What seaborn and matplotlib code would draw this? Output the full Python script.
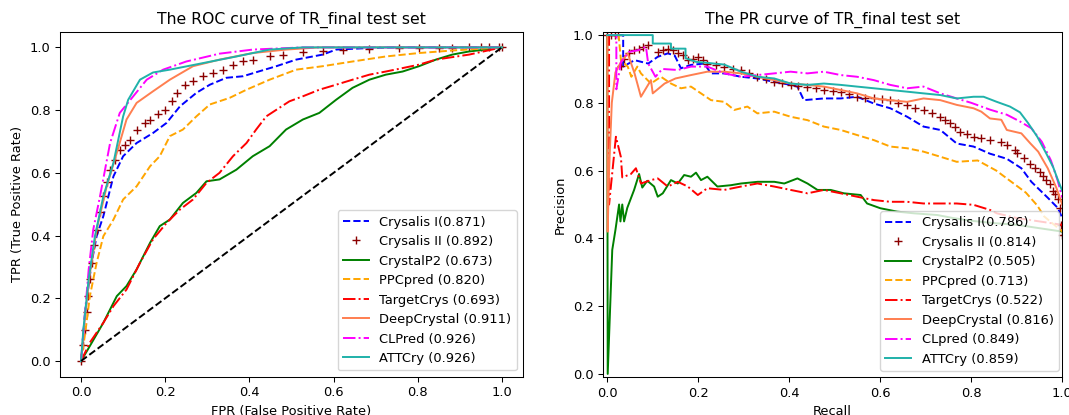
import matplotlib
matplotlib.use("Agg")
import matplotlib.pyplot as plt
import seaborn as sns

# ---------------- ROC data ----------------
roc_cry1_fpr = [0.0, 0.0095, 0.025, 0.037, 0.053, 0.077, 0.10, 0.132, 0.171, 0.203, 0.235, 0.274, 0.306, 0.345, 0.385, 0.424, 0.464, 0.511, 0.574, 0.606, 0.685, 0.75, 1.0]
roc_cry1_tpr = [0.0, 0.154, 0.313, 0.398, 0.462, 0.589, 0.653, 0.695, 0.727, 0.759, 0.812, 0.855, 0.881, 0.903, 0.908, 0.924, 0.94, 0.961, 0.977, 0.993, 0.998, 1.0, 1.0]

roc_cry2_fpr = [0.0, 0.0055, 0.0095, 0.013, 0.017, 0.021, 0.025, 0.031, 0.037, 0.045, 0.053, 0.061, 0.069, 0.081, 0.092, 0.104, 0.116, 0.132, 0.152, 0.164, 0.183, 0.199, 0.215, 0.227, 0.246, 0.266, 0.29, 0.314, 0.337, 0.361, 0.385, 0.408, 0.448, 0.479, 0.527, 0.574, 0.622, 0.685, 0.756, 0.803, 0.85, 0.882, 0.922, 0.95, 0.97, 0.993, 1.0]
roc_cry2_tpr = [0.0, 0.05, 0.10, 0.155, 0.207, 0.26, 0.313, 0.37, 0.419, 0.475, 0.525, 0.57, 0.61, 0.642, 0.674, 0.69, 0.706, 0.738, 0.759, 0.77, 0.786, 0.80, 0.828, 0.855, 0.881, 0.892, 0.908, 0.918, 0.929, 0.945, 0.955, 0.961, 0.971, 0.977, 0.984, 0.99, 0.992, 0.996, 0.997, 0.998, 0.998, 0.999, 1.0, 1.0, 1.0, 1.0, 1.0]

roc_p2_fpr = [0.0, 0.021, 0.053, 0.085, 0.108, 0.132, 0.164, 0.187, 0.211, 0.242, 0.274, 0.298, 0.329, 0.369, 0.408, 0.448, 0.487, 0.527, 0.566, 0.606, 0.645, 0.685, 0.724, 0.764, 0.803, 0.843, 0.882, 0.922, 0.961, 1.0]
roc_p2_tpr = [0.0, 0.048, 0.122, 0.207, 0.239, 0.292, 0.377, 0.43, 0.451, 0.504, 0.536, 0.573, 0.579, 0.61, 0.653, 0.685, 0.738, 0.77, 0.791, 0.833, 0.871, 0.897, 0.913, 0.923, 0.94, 0.961, 0.977, 0.987, 0.993, 1.0]

roc_ppc_fpr = [0.0, 0.01, 0.021, 0.037, 0.053, 0.077, 0.10, 0.132, 0.164, 0.187, 0.211, 0.242, 0.274, 0.306, 0.353, 0.393, 0.448, 0.511, 0.574, 0.645, 0.724, 0.803, 0.882, 1.0]
roc_ppc_tpr = [0.0, 0.09, 0.207, 0.313, 0.398, 0.451, 0.515, 0.557, 0.621, 0.653, 0.717, 0.738, 0.78, 0.818, 0.839, 0.865, 0.897, 0.929, 0.94, 0.955, 0.971, 0.982, 0.99, 1.0]

roc_tc_fpr = [0.0, 0.021, 0.053, 0.077, 0.108, 0.14, 0.171, 0.203, 0.235, 0.266, 0.298, 0.329, 0.361, 0.393, 0.416, 0.44, 0.464, 0.495, 0.527, 0.566, 0.606, 0.645, 0.685, 0.724, 0.764, 0.803, 0.843, 0.922, 1.0]
roc_tc_tpr = [0.0, 0.059, 0.122, 0.175, 0.228, 0.313, 0.388, 0.44, 0.483, 0.515, 0.568, 0.60, 0.653, 0.695, 0.738, 0.78, 0.801, 0.828, 0.844, 0.865, 0.881, 0.897, 0.913, 0.923, 0.934, 0.945, 0.961, 0.977, 1.0]

roc_dc_fpr = [0.0, 0.008, 0.02, 0.037, 0.061, 0.085, 0.108, 0.132, 0.171, 0.211, 0.266, 0.329, 0.408, 0.487, 0.566, 1.0]
roc_dc_tpr = [0.0, 0.12, 0.27, 0.419, 0.557, 0.664, 0.77, 0.823, 0.86, 0.897, 0.94, 0.961, 0.982, 0.993, 1.0, 1.0]

roc_cl_fpr = [0.0, 0.0095, 0.018, 0.029, 0.045, 0.069, 0.092, 0.124, 0.156, 0.195, 0.25, 0.329, 0.408, 0.527, 1.0]
roc_cl_tpr = [0.0, 0.154, 0.29, 0.419, 0.525, 0.695, 0.791, 0.844, 0.897, 0.929, 0.955, 0.98, 0.993, 1.0, 1.0]

roc_att_fpr = [0.0, 0.0055, 0.018, 0.033, 0.053, 0.077, 0.10, 0.112, 0.14, 0.171, 0.211, 0.29, 0.369, 0.448, 0.527, 1.0]
roc_att_tpr = [0.0, 0.10, 0.26, 0.398, 0.525, 0.632, 0.78, 0.833, 0.897, 0.92, 0.929, 0.95, 0.971, 0.993, 1.0, 1.0]

diag = [0.0, 1.0]

# ---------------- PR data ----------------
pr_cry1_rec = [0.0, 0.035, 0.035, 0.06, 0.09, 0.111, 0.133, 0.148, 0.162, 0.184, 0.213, 0.228, 0.257, 0.294, 0.33, 0.367, 0.403, 0.418, 0.432, 0.476, 0.513, 0.549, 0.586, 0.622, 0.659, 0.695, 0.732, 0.768, 0.805, 0.841, 0.878, 0.91, 0.932, 0.968, 0.99, 1.0]
pr_cry1_pre = [1.0, 1.0, 0.907, 0.926, 0.916, 0.936, 0.946, 0.94, 0.902, 0.912, 0.916, 0.887, 0.887, 0.877, 0.872, 0.862, 0.853, 0.848, 0.808, 0.813, 0.813, 0.818, 0.798, 0.784, 0.759, 0.73, 0.72, 0.68, 0.671, 0.65, 0.635, 0.607, 0.567, 0.52, 0.49, 0.46]

pr_cry2_rec = [0.0, 0.008, 0.016, 0.024, 0.03, 0.037, 0.047, 0.058, 0.069, 0.079, 0.09, 0.111, 0.122, 0.133, 0.144, 0.155, 0.166, 0.177, 0.188, 0.199, 0.21, 0.22, 0.238, 0.257, 0.276, 0.294, 0.312, 0.33, 0.348, 0.367, 0.385, 0.403, 0.42, 0.44, 0.458, 0.476, 0.495, 0.513, 0.531, 0.549, 0.567, 0.586, 0.604, 0.622, 0.64, 0.659, 0.677, 0.695, 0.713, 0.732, 0.743, 0.754, 0.765, 0.775, 0.79, 0.805, 0.822, 0.841, 0.866, 0.878, 0.895, 0.9, 0.915, 0.929, 0.94, 0.951, 0.958, 0.965, 0.972, 0.98, 0.985, 0.99, 0.994, 0.998, 1.0]
pr_cry2_pre = [1.0, 1.0, 1.0, 1.0, 0.91, 0.93, 0.947, 0.955, 0.96, 0.965, 0.97, 0.95, 0.955, 0.96, 0.955, 0.946, 0.94, 0.926, 0.93, 0.936, 0.925, 0.916, 0.912, 0.907, 0.9, 0.897, 0.888, 0.877, 0.87, 0.862, 0.858, 0.853, 0.85, 0.848, 0.843, 0.838, 0.836, 0.833, 0.826, 0.818, 0.815, 0.813, 0.81, 0.808, 0.8, 0.794, 0.786, 0.779, 0.77, 0.759, 0.75, 0.74, 0.73, 0.715, 0.708, 0.70, 0.697, 0.69, 0.685, 0.675, 0.66, 0.651, 0.637, 0.621, 0.607, 0.597, 0.585, 0.572, 0.56, 0.54, 0.53, 0.515, 0.49, 0.44, 0.41]

pr_p2_rec = [0.0, 0.001, 0.011, 0.018, 0.026, 0.029, 0.033, 0.037, 0.044, 0.059, 0.07, 0.077, 0.088, 0.103, 0.111, 0.122, 0.14, 0.155, 0.169, 0.184, 0.195, 0.206, 0.22, 0.242, 0.272, 0.294, 0.331, 0.367, 0.389, 0.418, 0.44, 0.462, 0.491, 0.52, 0.557, 0.571, 0.6, 0.637, 0.674, 0.725, 0.76, 0.8, 0.85, 0.9, 0.95, 1.0]
pr_p2_pre = [1.0, 0.0, 0.366, 0.425, 0.50, 0.45, 0.50, 0.45, 0.49, 0.543, 0.59, 0.55, 0.57, 0.553, 0.523, 0.533, 0.572, 0.562, 0.587, 0.582, 0.594, 0.572, 0.582, 0.553, 0.557, 0.562, 0.567, 0.567, 0.562, 0.577, 0.562, 0.543, 0.543, 0.533, 0.528, 0.503, 0.489, 0.479, 0.474, 0.469, 0.46, 0.452, 0.445, 0.44, 0.43, 0.42]

pr_ppc_rec = [0.0, 0.025, 0.03, 0.045, 0.053, 0.066, 0.074, 0.096, 0.118, 0.14, 0.162, 0.184, 0.206, 0.228, 0.257, 0.279, 0.308, 0.33, 0.367, 0.403, 0.44, 0.476, 0.513, 0.549, 0.586, 0.622, 0.659, 0.695, 0.732, 0.768, 0.814, 0.855, 0.89, 0.92, 0.945, 0.96, 1.0]
pr_ppc_pre = [1.0, 1.0, 0.926, 0.907, 0.877, 0.907, 0.887, 0.857, 0.877, 0.857, 0.843, 0.848, 0.828, 0.808, 0.803, 0.779, 0.789, 0.769, 0.774, 0.759, 0.749, 0.73, 0.72, 0.705, 0.69, 0.671, 0.666, 0.656, 0.641, 0.626, 0.63, 0.60, 0.565, 0.535, 0.497, 0.465, 0.42]

pr_tc_rec = [0.0, 0.004, 0.004, 0.019, 0.03, 0.033, 0.052, 0.063, 0.074, 0.096, 0.111, 0.133, 0.155, 0.177, 0.199, 0.22, 0.257, 0.294, 0.33, 0.367, 0.403, 0.44, 0.476, 0.513, 0.549, 0.586, 0.622, 0.659, 0.695, 0.732, 0.768, 0.805, 0.841, 0.856, 0.9, 0.95, 1.0]
pr_tc_pre = [1.0, 1.0, 0.50, 0.70, 0.64, 0.58, 0.59, 0.607, 0.562, 0.572, 0.577, 0.553, 0.567, 0.553, 0.528, 0.548, 0.543, 0.553, 0.562, 0.553, 0.543, 0.533, 0.543, 0.533, 0.523, 0.513, 0.508, 0.508, 0.503, 0.503, 0.503, 0.499, 0.484, 0.474, 0.46, 0.45, 0.44]

pr_dc_rec = [0.0, 0.001, 0.004, 0.01, 0.018, 0.03, 0.045, 0.06, 0.074, 0.096, 0.1, 0.126, 0.15, 0.184, 0.22, 0.257, 0.294, 0.33, 0.367, 0.403, 0.44, 0.476, 0.513, 0.549, 0.586, 0.622, 0.659, 0.695, 0.732, 0.768, 0.805, 0.822, 0.841, 0.866, 0.878, 0.91, 0.93, 0.947, 0.968, 0.987, 1.0]
pr_dc_pre = [1.0, 0.42, 0.60, 0.80, 0.89, 0.92, 0.946, 0.887, 0.818, 0.867, 0.828, 0.857, 0.872, 0.882, 0.892, 0.892, 0.887, 0.877, 0.867, 0.857, 0.853, 0.848, 0.838, 0.828, 0.813, 0.808, 0.803, 0.813, 0.808, 0.794, 0.784, 0.774, 0.754, 0.75, 0.72, 0.71, 0.68, 0.656, 0.607, 0.549, 0.499]

pr_cl_rec = [0.0, 0.02, 0.02, 0.03, 0.047, 0.07, 0.085, 0.09, 0.106, 0.121, 0.155, 0.184, 0.22, 0.257, 0.294, 0.33, 0.367, 0.403, 0.44, 0.476, 0.513, 0.549, 0.586, 0.622, 0.659, 0.695, 0.732, 0.768, 0.80, 0.841, 0.878, 0.907, 0.932, 0.955, 0.975, 0.99, 1.0]
pr_cl_pre = [1.0, 1.0, 0.84, 0.92, 0.95, 0.956, 0.966, 0.916, 0.877, 0.90, 0.897, 0.907, 0.907, 0.887, 0.877, 0.882, 0.887, 0.892, 0.887, 0.892, 0.882, 0.877, 0.867, 0.853, 0.843, 0.848, 0.828, 0.813, 0.80, 0.78, 0.765, 0.745, 0.725, 0.685, 0.63, 0.57, 0.52]

pr_att_rec = [0.0, 0.10, 0.10, 0.14, 0.14, 0.172, 0.172, 0.195, 0.22, 0.257, 0.294, 0.33, 0.367, 0.403, 0.44, 0.476, 0.513, 0.549, 0.586, 0.622, 0.659, 0.695, 0.732, 0.768, 0.805, 0.827, 0.856, 0.885, 0.907, 0.925, 0.945, 0.965, 0.98, 0.991, 1.0]
pr_att_pre = [1.0, 1.0, 0.975, 0.975, 0.96, 0.96, 0.932, 0.921, 0.918, 0.913, 0.892, 0.877, 0.872, 0.857, 0.853, 0.857, 0.853, 0.848, 0.843, 0.838, 0.833, 0.828, 0.823, 0.813, 0.818, 0.818, 0.803, 0.789, 0.772, 0.74, 0.70, 0.65, 0.61, 0.57, 0.54]

labels_roc = ["Crysalis I(0.871)", "Crysalis II (0.892)", "CrystalP2 (0.673)", "PPCpred (0.820)",
              "TargetCrys (0.693)", "DeepCrystal (0.911)", "CLPred (0.926)", "ATTCry (0.926)"]
labels_pr = ["Crysalis I(0.786)", "Crysalis II (0.814)", "CrystalP2 (0.505)", "PPCpred (0.713)",
             "TargetCrys (0.522)", "DeepCrystal (0.816)", "CLpred (0.849)", "ATTCry (0.859)"]
colors = ["blue", "darkred", "green", "orange", "red", "coral", "magenta", "lightseagreen"]
styles = ["--", "none", "-", "--", "-.", "-", "-.", "-"]

roc_series = [(roc_cry1_fpr, roc_cry1_tpr), (roc_cry2_fpr, roc_cry2_tpr), (roc_p2_fpr, roc_p2_tpr),
              (roc_ppc_fpr, roc_ppc_tpr), (roc_tc_fpr, roc_tc_tpr), (roc_dc_fpr, roc_dc_tpr),
              (roc_cl_fpr, roc_cl_tpr), (roc_att_fpr, roc_att_tpr)]
pr_series = [(pr_cry1_rec, pr_cry1_pre), (pr_cry2_rec, pr_cry2_pre), (pr_p2_rec, pr_p2_pre),
             (pr_ppc_rec, pr_ppc_pre), (pr_tc_rec, pr_tc_pre), (pr_dc_rec, pr_dc_pre),
             (pr_cl_rec, pr_cl_pre), (pr_att_rec, pr_att_pre)]

s = 0.936
plt.rcParams.update({
    "font.family": ["DejaVu Sans"],
    "font.size": 10 * s,
    "axes.titlesize": 12 * s,
    "axes.labelsize": 10 * s,
    "xtick.labelsize": 10 * s,
    "ytick.labelsize": 10 * s,
    "legend.fontsize": 10 * s,
    "axes.linewidth": 0.8 * s,
    "xtick.major.width": 0.8 * s,
    "ytick.major.width": 0.8 * s,
    "xtick.major.size": 3.5 * s,
    "ytick.major.size": 3.5 * s,
    "lines.linewidth": 1.5 * s,
})

fig = plt.figure(figsize=(10.69, 4.15), dpi=100)
W, H = 1069, 415
ax1 = fig.add_axes([60 / W, 1 - 376.7 / H, 463 / W, 345 / H])
ax2 = fig.add_axes([602.7 / W, 1 - 377.3 / H, 459.6 / W, 345.6 / H])


def draw(ax, series, labels):
    for (xs, ys), lab, col, ls in zip(series, labels, colors, styles):
        if ls == "none":
            sns.lineplot(x=xs, y=ys, ax=ax, color=col, linestyle="none", marker="+",
                         markersize=5.5, markeredgewidth=1.0, markeredgecolor=col,
                         markerfacecolor=col, sort=False, estimator=None, label=lab)
        else:
            sns.lineplot(x=xs, y=ys, ax=ax, color=col, linestyle=ls, sort=False,
                         estimator=None, label=lab, linewidth=1.5 * s)


draw(ax1, roc_series, labels_roc)
sns.lineplot(x=diag, y=diag, ax=ax1, color="black", linestyle="--", sort=False, estimator=None,
             linewidth=1.5 * s)
ax1.set_xlim(-0.05, 1.05)
ax1.set_ylim(-0.05, 1.05)
ax1.set_xticks([0.0, 0.2, 0.4, 0.6, 0.8, 1.0])
ax1.set_yticks([0.0, 0.2, 0.4, 0.6, 0.8, 1.0])
ax1.set_xlabel("FPR (False Positive Rate)")
ax1.set_ylabel("TPR (True Positive Rate)")
ax1.set_title("The ROC curve of TR_final test set")
ax1.legend(loc="lower right")

draw(ax2, pr_series, labels_pr)
ax2.set_xlim(-0.01, 1.0)
ax2.set_ylim(-0.01, 1.01)
ax2.set_xticks([0.0, 0.2, 0.4, 0.6, 0.8, 1.0])
ax2.set_yticks([0.0, 0.2, 0.4, 0.6, 0.8, 1.0])
ax2.set_xlabel("Recall")
ax2.set_ylabel("Precision")
ax2.set_title("The PR curve of TR_final test set")
ax2.legend(loc="lower right", bbox_to_anchor=(1.007, 0.0))

fig.savefig("out.png", dpi=100)
